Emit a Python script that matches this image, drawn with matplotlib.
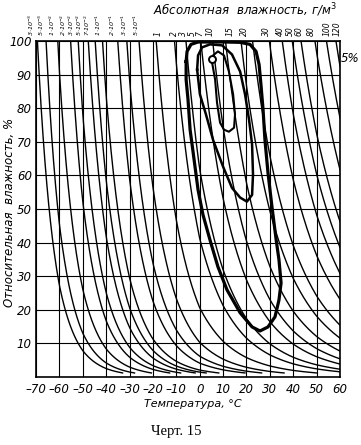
import numpy as np
import matplotlib
matplotlib.use("Agg")
import matplotlib.pyplot as plt

# ---- data ----
# saturation vapour density (g/m^3) at reference temperatures (ice below 0 C)
sat_temp = [-70, -60, -50, -40, -30, -20, -10, 0, 10, 20, 30, 40, 50, 60]
sat_density = [0.00276, 0.01098, 0.03826, 0.1193, 0.3386, 0.8842, 2.140,
               4.848, 9.397, 17.29, 30.35, 51.09, 82.81, 129.7]

# absolute humidity isolines, g/m^3
abs_values = [3e-3, 5e-3, 1e-2, 2e-2, 3e-2, 5e-2, 7e-2, 1e-1, 2e-1, 3e-1, 5e-1,
              1, 2, 3, 5, 7, 10, 15, 20, 30, 40, 50, 60, 80, 100, 120]
abs_labels = ["3·10$^{-3}$", "5·10$^{-3}$", "1·10$^{-2}$", "2·10$^{-2}$", "3·10$^{-2}$",
              "5·10$^{-2}$", "7·10$^{-2}$", "1·10$^{-1}$", "2·10$^{-1}$", "3·10$^{-1}$",
              "5·10$^{-1}$", "1", "2", "3", "5", "7", "10", "15", "20", "30", "40",
              "50", "60", "80", "100", "120"]

x_ticks = [-70, -60, -50, -40, -30, -20, -10, 0, 10, 20, 30, 40, 50, 60]
y_ticks = [10, 20, 30, 40, 50, 60, 70, 80, 90, 100]

# probability contours (temperature C, relative humidity %)
outer_T = [-5.8, -5.4, -3.7, -0.7, 4.4, 10.8, 17.3, 21.5, 24.1, 25.4, 26.2, 27.1, 27.9,
           29.2, 30.9, 32.7, 33.9, 34.8, 33.9, 32.2, 29.2, 25.8, 22.4, 17.3, 11.7, 7.8,
           4.4, 1.4, -0.7, -2.4, -4.1, -5.0, -5.8, -5.8]
outer_RH = [93.9, 96.9, 99.0, 99.7, 99.7, 99.7, 99.6, 99.0, 96.9, 93.0, 87.0, 79.6, 70.6,
            60.8, 50.7, 40.8, 34.9, 28.0, 22.9, 17.9, 14.9, 13.7, 14.9, 19.1, 25.9, 32.8,
            40.8, 48.3, 55.7, 64.7, 73.6, 82.6, 88.5, 93.9]
middle_T = [-1.1, -0.7, 1.0, 4.4, 9.6, 13.8, 17.3, 19.4, 21.1, 22.4, 22.8, 22.4, 20.2,
            17.3, 13.8, 10.0, 5.7, 2.7, 0.1, -1.1]
middle_RH = [91.5, 95.7, 98.1, 99.0, 98.7, 96.0, 90.9, 84.1, 76.6, 69.2, 60.2, 54.2, 52.2,
             53.4, 56.3, 62.6, 70.6, 78.1, 84.1, 91.5]
inner_T = [5.3, 6.6, 7.4, 8.7, 10.4, 12.5, 14.7, 15.1, 14.3, 12.5, 10.4, 7.8, 5.7, 5.3]
inner_RH = [93.6, 88.5, 81.7, 75.7, 73.6, 73.0, 74.2, 78.1, 84.1, 90.9, 95.7, 96.9, 95.7, 93.6]
marker_T = [5.3]
marker_RH = [94.6]

# ---- figure ----
W, H = 361, 445
fig = plt.figure(figsize=(W / 100, H / 100), dpi=100)
L, R, T, B = 36, 340, 41, 377
ax = fig.add_axes([L / W, 1 - B / H, (R - L) / W, (B - T) / H])
ax.set_xlim(-70, 60)
ax.set_ylim(0, 100)

tfont = dict(family=["Liberation Sans Narrow", "DejaVu Sans"], style="italic")

ax.set_xticks(x_ticks)
ax.set_xticklabels(["\u2013" + str(-v) if v < 0 else str(v) for v in x_ticks], fontsize=8.5, **tfont)
ax.set_yticks(y_ticks)
ax.set_yticklabels([str(v) for v in y_ticks], fontsize=8.5, **tfont)
ax.tick_params(axis="x", length=0, pad=4)
ax.tick_params(axis="y", length=0, pad=3)
ax.grid(True, color="black", lw=0.8)
for s in ax.spines.values():
    s.set_linewidth(1.2)

# label x positions (pixels) along the top edge, as laid out in the original
label_px = [31, 41, 52, 63, 71, 79, 87, 98, 112, 124, 136, 158, 174, 183, 192, 200,
            210, 230, 244, 266, 280, 290, 299, 311, 327, 337]

Tg = np.linspace(-70, 60, 1300)
log_sat = np.interp(Tg, sat_temp, np.log(sat_density))
for a, lab, px in zip(abs_values, abs_labels, label_px):
    rh = 100.0 * a / np.exp(log_sat)
    rh = np.where((rh > 101) | (rh < 1.2), np.nan, rh)
    ax.plot(Tg, rh, color="black", lw=1.0, clip_on=True)
    fs = 4.6 if a < 1 else 5.5
    fig.text(px / W, 1 - 36 / H, lab, rotation=90, ha="center", va="bottom",
             fontsize=fs, **tfont)

ax.plot(outer_T, outer_RH, color="black", lw=2.3, clip_on=False, solid_joinstyle="round")
ax.plot(middle_T, middle_RH, color="black", lw=1.8, clip_on=False, solid_joinstyle="round")
ax.plot(inner_T, inner_RH, color="black", lw=1.5, clip_on=False, solid_joinstyle="round")
ax.plot(marker_T, marker_RH, "o", ms=5, mfc="white", mec="black", mew=1.4)

fig.text(245 / W, 1 - 10 / H, "Абсолютная  влажность, г/м$^3$", ha="center", va="center",
         fontsize=8.5, **tfont)
fig.text(350 / W, 1 - 58 / H, "5%", ha="center", va="center", fontsize=8.5, **tfont)
fig.text(10 / W, 1 - 212 / H, "Относительная  влажность, %", rotation=90, ha="center",
         va="center", fontsize=8.5, **tfont)
fig.text(193 / W, 1 - 404 / H, "Температура, °С", ha="center", va="center", fontsize=8,
         **tfont)
fig.text(176 / W, 1 - 432 / H, "Черт. 15", ha="center", va="center", fontsize=10.5,
         family=["Liberation Serif", "DejaVu Serif"])

fig.savefig("out.png", dpi=100)
